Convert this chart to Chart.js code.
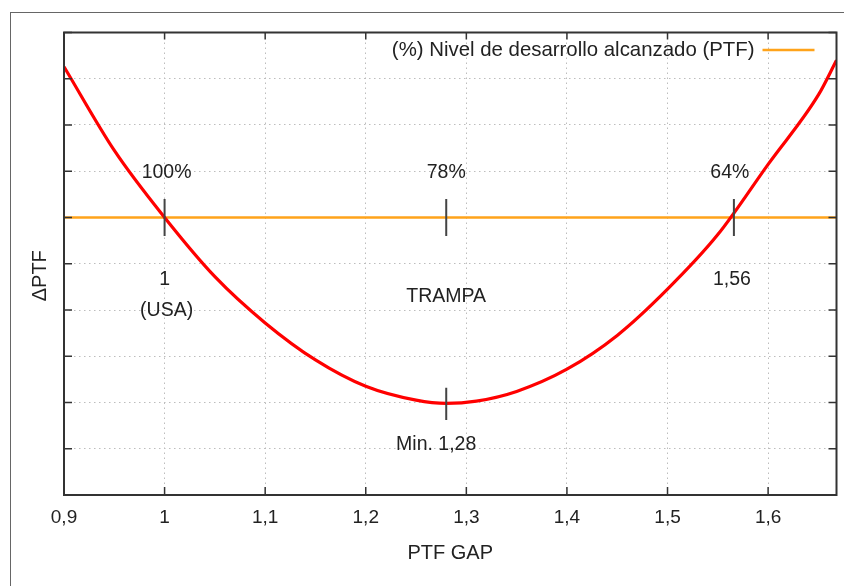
<!DOCTYPE html>
<html>
<head>
<meta charset="utf-8">
<script src="https://cdn.jsdelivr.net/npm/chart.js@4/dist/chart.umd.min.js"></script>
<style>
  body { margin: 0; background: #fff; overflow: hidden; }
  #frame { position: absolute; left: 10px; top: 12px; width: 1000px; height: 800px; border: 1.5px solid #666; }
  #wrap { position: absolute; left: 0; top: 0; }
</style>
</head>
<body>
<div id="frame"></div>
<div id="wrap"><canvas id="myChart" width="844" height="586"></canvas></div>
<script>
// PTF GAP (x) vs ΔPTF (y)
const gapX   = [0.9, 0.95, 1.0, 1.05, 1.1, 1.15, 1.2, 1.25, 1.28, 1.31, 1.35, 1.4, 1.45, 1.5, 1.55, 1.6, 1.65, 1.668];
const deltaY = [9.26, 7.45, 6.0, 4.72, 3.72, 2.92, 2.35, 2.05, 1.98, 2.03, 2.24, 2.72, 3.45, 4.45, 5.63, 7.15, 8.65, 9.4];

// horizontal level line
const levelX = [0.9, 1.668];
const levelY = [6, 6];

// small vertical markers
const markX = [1, 1.28, 1.566, 1.28];
const markY = [6, 6, 6, 1.97];
const markHalf = [0.4, 0.4, 0.4, 0.35];

// annotations
const noteText = ['100%', '78%', '64%', '1', '(USA)', '1,56', 'TRAMPA', 'Min. 1,28'];
const noteX    = [1.002, 1.28, 1.562, 1.0, 1.002, 1.564, 1.28, 1.27];
const noteY    = [6.97, 6.96, 6.96, 4.65, 3.98, 4.65, 4.3, 1.1];

// axis ticks
const xTickValues = [0.9, 1.0, 1.1, 1.2, 1.3, 1.4, 1.5, 1.6];
const xTickLabels = ['0,9', '1', '1,1', '1,2', '1,3', '1,4', '1,5', '1,6'];
const yTickValues = [0, 1, 2, 3, 4, 5, 6, 7, 8, 9, 10];

Chart.defaults.font.family = '"Liberation Sans", Arial, Helvetica, sans-serif';
Chart.defaults.color = '#222';

const markSets = markX.map((x, i) => ({
  label: 'mark' + i,
  data: [{x: x, y: markY[i] - markHalf[i]}, {x: x, y: markY[i] + markHalf[i]}],
  borderColor: '#444',
  borderWidth: 2,
  pointRadius: 0,
  showLine: true
}));

const decor = {
  id: 'decor',
  afterDatasetsDraw(chart) {
    const {ctx, chartArea: a, scales: {x, y}} = chart;
    ctx.save();
    // notes
    ctx.fillStyle = '#222';
    ctx.font = '19.5px "Liberation Sans", Arial, sans-serif';
    ctx.textAlign = 'center';
    ctx.textBaseline = 'middle';
    noteText.forEach((t, i) => {
      ctx.fillText(t, x.getPixelForValue(noteX[i]), y.getPixelForValue(noteY[i]));
    });
    // legend
    const lvl = chart.data.datasets.find(d => d.label.startsWith('(%)'));
    const ly = a.top + 17.5;
    ctx.textAlign = 'right';
    ctx.font = '20.4px "Liberation Sans", Arial, sans-serif';
    ctx.fillText(lvl.label, a.right - 82, ly);
    ctx.strokeStyle = lvl.borderColor;
    ctx.lineWidth = lvl.borderWidth;
    ctx.beginPath();
    ctx.moveTo(a.right - 74, ly);
    ctx.lineTo(a.right - 22, ly);
    ctx.stroke();
    // y title
    ctx.translate(40, (a.top + a.bottom) / 2 + 12);
    ctx.rotate(-Math.PI / 2);
    ctx.textAlign = 'center';
    ctx.font = '20px "Liberation Sans", Arial, sans-serif';
    ctx.fillText('ΔPTF', 0, 0);
    ctx.restore();
  },
  afterDraw(chart) {
    const {ctx, chartArea: a, scales: {x, y}} = chart;
    ctx.save();
    ctx.strokeStyle = '#333';
    ctx.lineWidth = 1.5;
    xTickValues.forEach(v => {
      const px = x.getPixelForValue(v);
      ctx.beginPath();
      ctx.moveTo(px, a.bottom); ctx.lineTo(px, a.bottom - 8);
      ctx.moveTo(px, a.top); ctx.lineTo(px, a.top + 7);
      ctx.stroke();
    });
    yTickValues.forEach(v => {
      const py = y.getPixelForValue(v);
      ctx.beginPath();
      ctx.moveTo(a.left, py); ctx.lineTo(a.left + 8, py);
      ctx.moveTo(a.right, py); ctx.lineTo(a.right - 8, py);
      ctx.stroke();
    });
    ctx.lineWidth = 2;
    ctx.strokeRect(a.left, a.top, a.right - a.left, a.bottom - a.top);
    ctx.restore();
  }
};

new Chart(document.getElementById('myChart'), {
  type: 'scatter',
  data: {
    datasets: [
      ...markSets,
      {
        label: 'ΔPTF',
        data: gapX.map((x, i) => ({x: x, y: deltaY[i]})),
        borderColor: '#ff0000',
        borderWidth: 3.2,
        pointRadius: 0,
        showLine: true,
        cubicInterpolationMode: 'monotone'
      },
      {
        label: '(%) Nivel de desarrollo alcanzado (PTF)',
        data: levelX.map((x, i) => ({x: x, y: levelY[i]})),
        borderColor: '#ffa31a',
        borderWidth: 2.5,
        pointRadius: 0,
        showLine: true
      }
    ]
  },
  options: {
    responsive: false,
    animation: false,
    devicePixelRatio: 1,
    layout: { padding: { left: 0, right: 7.5, top: 32.5, bottom: 0 } },
    plugins: { legend: { display: false }, tooltip: { enabled: false } },
    scales: {
      x: {
        type: 'linear',
        min: 0.9,
        max: 1.668,
        afterFit: s => { s.height = 91; },
        afterBuildTicks: s => { s.ticks = xTickValues.map(v => ({value: v})); },
        ticks: {
          padding: 11,
          font: { size: 19 },
          color: '#222',
          callback: (v) => xTickLabels[xTickValues.indexOf(+v.toFixed(1))] ?? ''
        },
        grid: { color: '#bdbdbd', lineWidth: 1, drawTicks: false },
        border: { display: false, dash: [1.5, 3.5] },
        title: { display: true, text: 'PTF GAP', font: { size: 20 }, color: '#222', padding: { top: 0, bottom: 21 } }
      },
      y: {
        min: 0,
        max: 10,
        afterFit: s => { s.width = 64; },
        afterBuildTicks: s => { s.ticks = yTickValues.map(v => ({value: v})); },
        ticks: { display: false },
        grid: { color: '#bdbdbd', lineWidth: 1, drawTicks: false },
        border: { display: false, dash: [1.5, 3.5] }
      }
    }
  },
  plugins: [decor]
});
</script>
</body>
</html>
